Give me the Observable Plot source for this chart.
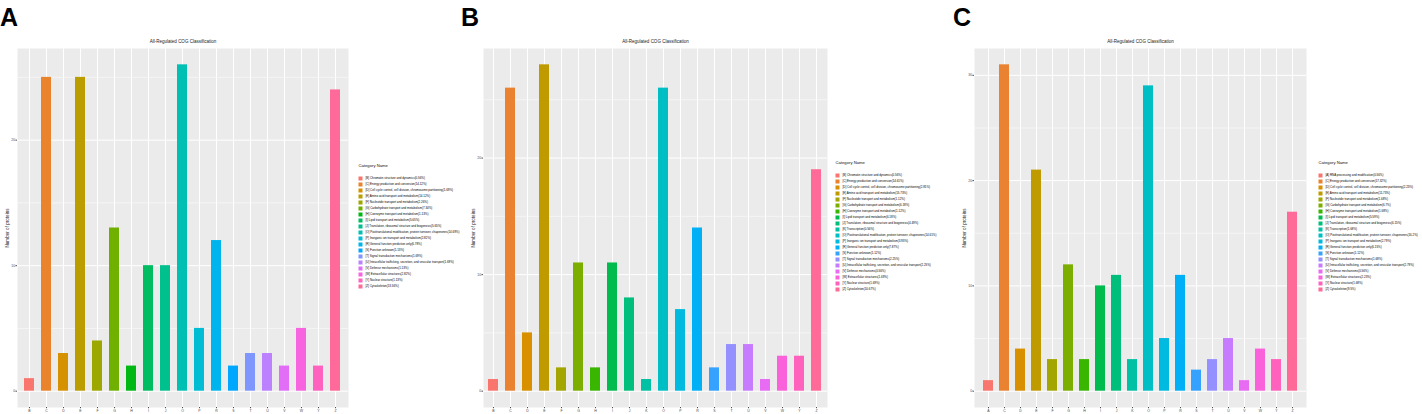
<!DOCTYPE html>
<html>
<head>
<meta charset="utf-8">
<script src="https://cdn.jsdelivr.net/npm/d3@7"></script>
<script src="https://cdn.jsdelivr.net/npm/@observablehq/plot@0.6"></script>
<style>
  html, body { margin: 0; padding: 0; background: white; }
  #root { position: relative; width: 1422px; height: 414px; overflow: hidden; background: white; font-family: "Liberation Sans", Arial, sans-serif; }
  .letter { position: absolute; font-family: "Liberation Sans", Arial, sans-serif; font-weight: bold; font-size: 25px; line-height: 25px; color: #000; }
  #root svg { position: absolute; }
</style>
</head>
<body>
<div id="root"></div>
<script>
// ---------------- data ----------------
const chartTitle = "All-Regulated COG Classification";
const yTitle = "Number of proteins";
const legendTitle = "Category Name";
const panelLetters = ["A", "B", "C"];

const cogNames = {
  A: "RNA processing and modification",
  B: "Chromatin structure and dynamics",
  C: "Energy production and conversion",
  D: "Cell cycle control, cell division, chromosome partitioning",
  E: "Amino acid transport and metabolism",
  F: "Nucleotide transport and metabolism",
  G: "Carbohydrate transport and metabolism",
  H: "Coenzyme transport and metabolism",
  I: "Lipid transport and metabolism",
  J: "Translation, ribosomal structure and biogenesis",
  K: "Transcription",
  O: "Posttranslational modification, protein turnover, chaperones",
  P: "Inorganic ion transport and metabolism",
  R: "General function prediction only",
  S: "Function unknown",
  T: "Signal transduction mechanisms",
  U: "Intracellular trafficking, secretion, and vesicular transport",
  V: "Defense mechanisms",
  W: "Extracellular structures",
  Y: "Nuclear structure",
  Z: "Cytoskeleton"
};

const catsA = ["B","C","D","E","F","G","H","I","J","O","P","R","S","T","U","V","W","Y","Z"];
const countsA = [1,25,3,25,4,13,2,10,10,26,5,12,2,3,3,2,5,2,24];
const pctA = ["0.56","14.12","1.69","14.12","2.26","7.34","1.13","5.65","5.65","14.69","2.82","6.78","1.13","1.69","1.69","1.13","2.82","1.13","13.56"];
const yTicksA = [0, 10, 20];
const yMinorA = [5, 15, 25];

const catsB = ["B","C","D","E","F","G","H","I","J","K","O","P","R","S","T","U","V","W","Y","Z"];
const countsB = [1,26,5,28,2,11,2,11,8,1,26,7,14,2,4,4,1,3,3,19];
const pctB = ["0.56","14.61","2.81","15.73","1.12","6.18","1.12","6.18","4.49","0.56","14.61","3.93","7.87","1.12","2.25","2.25","0.56","1.69","1.69","10.67"];
const yTicksB = [0, 10, 20];
const yMinorB = [5, 15, 25];

const catsC = ["A","C","D","E","F","G","H","I","J","K","O","P","R","S","T","U","V","W","Y","Z"];
const countsC = [1,31,4,21,3,12,3,10,11,3,29,5,11,2,3,5,1,4,3,17];
const pctC = ["0.56","17.32","2.23","11.73","1.68","6.7","1.68","5.59","6.15","1.68","16.2","2.79","6.15","1.12","1.68","2.79","0.56","2.23","1.68","9.5"];
const yTicksC = [0, 10, 20, 30];
const yMinorC = [5, 15, 25];

// ---------------- ggplot2 hue palette (polar LUV -> sRGB) ----------------
function polarLuvToHex(L, C, H) {
  const hr = H * Math.PI / 180;
  const U = C * Math.cos(hr), V = C * Math.sin(hr);
  const Xn = 95.047, Yn = 100, Zn = 108.883;
  const den = Xn + 15 * Yn + 3 * Zn;
  const un = 4 * Xn / den, vn = 9 * Yn / den;
  const Y = Yn * (L > 7.999592 ? Math.pow((L + 16) / 116, 3) : L / 903.3);
  const u = U / (13 * L) + un, v = V / (13 * L) + vn;
  const X = 9 * Y * u / (4 * v);
  const Z = -X / 3 - 5 * Y + 3 * Y / v;
  const x = X / 100, y = Y / 100, z = Z / 100;
  const r = 3.240479 * x - 1.537150 * y - 0.498535 * z;
  const g = -0.969256 * x + 1.875992 * y + 0.041556 * z;
  const b = 0.055648 * x - 0.204043 * y + 1.057311 * z;
  const gam = t => t <= 0.0031308 ? 12.92 * t : 1.055 * Math.pow(t, 1 / 2.4) - 0.055;
  const to = t => Math.round(255 * Math.min(1, Math.max(0, gam(t))));
  return d3.rgb(to(r), to(g), to(b)).formatHex();
}
function huePal(n) {
  const out = [];
  for (let i = 0; i < n; i++) out.push(polarLuvToHex(65, 100, 15 + i * 360 / n));
  return out;
}

const FONT = "Liberation Sans, Arial, sans-serif";
const root = document.getElementById("root");

function barPanel(cats, counts, yTicks, yMinor, left, width, marginLeft, marginRight) {
  const data = cats.map((c, i) => ({cat: c, n: counts[i]}));
  const max = d3.max(counts);
  const colors = huePal(cats.length);
  const svg = Plot.plot({
    width, height: 414,
    marginLeft, marginRight, marginTop: 48, marginBottom: 7,
    style: {fontFamily: FONT, background: "transparent", overflow: "visible"},
    x: {domain: cats, paddingInner: 0.4, paddingOuter: 0.3, label: null, axis: null},
    y: {domain: [-0.05 * max, 1.05 * max], label: null, axis: null},
    color: {domain: cats, range: colors},
    marks: [
      Plot.frame({fill: "#EBEBEB", stroke: "none"}),
      Plot.gridY(yMinor, {stroke: "white", strokeOpacity: 1, strokeWidth: 0.5}),
      Plot.gridY(yTicks, {stroke: "white", strokeOpacity: 1, strokeWidth: 1}),
      Plot.gridX({stroke: "white", strokeOpacity: 1, strokeWidth: 1}),
      Plot.barY(data, {x: "cat", y: "n", fill: "cat"}),
      Plot.axisX({tickSize: 1.2, tickPadding: 0.6, fontSize: 3.5, color: "#4D4D4D", label: null}),
      Plot.axisY(yTicks, {tickSize: 1.5, tickPadding: 0.8, fontSize: 3.5, color: "#4D4D4D", label: null}),
      Plot.text([chartTitle], {text: d => d, frameAnchor: "top", dy: -6.5, fontSize: 4.5, lineAnchor: "middle", textAnchor: "middle", fill: "#222"}),
      Plot.text([yTitle], {text: d => d, frameAnchor: "left", rotate: -90, dx: -9.5, fontSize: 4.6, lineAnchor: "middle", textAnchor: "middle", fill: "#222"})
    ]
  });
  svg.style.left = left + "px";
  svg.style.top = "0px";
  root.appendChild(svg);
}

function legendPanel(cats, pcts, left, top) {
  const labels = cats.map((c, i) => `[${c}] ${cogNames[c]}(${pcts[i]}%)`);
  const colors = huePal(cats.length);
  const rowH = 6.5;
  const mTop = 19.75;
  const svg = Plot.plot({
    width: 112, height: mTop + labels.length * rowH + 2,
    marginLeft: 1, marginRight: 0, marginTop: mTop, marginBottom: 2,
    style: {fontFamily: FONT, background: "transparent", overflow: "visible"},
    y: {type: "point", domain: labels, padding: 0.5, axis: null},
    color: {domain: labels, range: colors},
    marks: [
      Plot.dot(labels, {y: d => d, frameAnchor: "left", dx: 2, symbol: "square", r: 2.26, fill: d => d, stroke: "none"}),
      Plot.text(labels, {y: d => d, text: d => d, frameAnchor: "left", dx: 7, fontSize: 2.95, textAnchor: "start", lineAnchor: "middle", fill: "#000"}),
      Plot.text([legendTitle], {text: d => d, frameAnchor: "top-left", dy: -4.75, fontSize: 4.2, textAnchor: "start", lineAnchor: "middle", fill: "#111"})
    ]
  });
  svg.style.left = left + "px";
  svg.style.top = top + "px";
  root.appendChild(svg);
}

barPanel(catsA, countsA, yTicksA, yMinorA, 0, 351, 17, 3);
legendPanel(catsA, pctA, 357, 150);
barPanel(catsB, countsB, yTicksB, yMinorB, 466, 364, 17, 3);
legendPanel(catsB, pctB, 834, 147);
barPanel(catsC, countsC, yTicksC, yMinorC, 957, 352, 17, 3);
legendPanel(catsC, pctC, 1317, 147);

const letterPos = [[0, 5], [461, 5], [953, 5]];
panelLetters.forEach((t, i) => {
  const d = document.createElement("div");
  d.className = "letter";
  d.textContent = t;
  d.style.left = letterPos[i][0] + "px";
  d.style.top = letterPos[i][1] + "px";
  root.appendChild(d);
});
</script>
</body>
</html>
